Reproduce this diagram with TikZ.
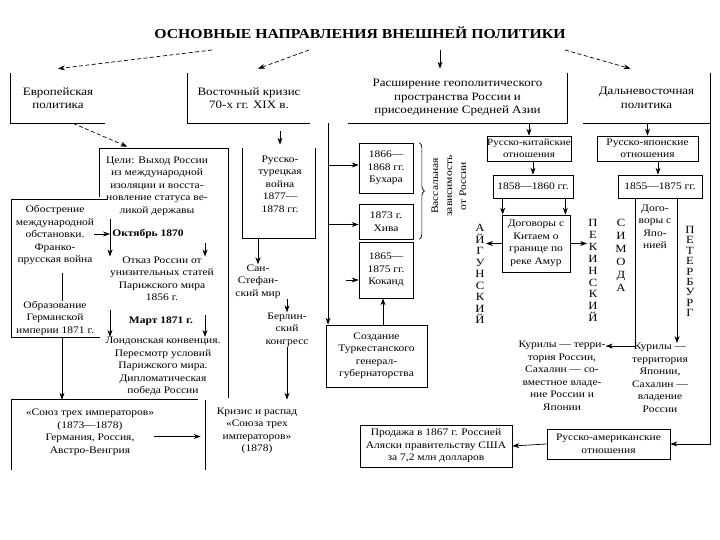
\documentclass[tikz,border=0pt]{standalone}
\usepackage{fontspec}
\setmainfont{Liberation Serif}[FakeStretch=1.15]
\usetikzlibrary{arrows.meta,decorations.pathreplacing}

\begin{document}
\begin{tikzpicture}[x=1pt,y=-1pt,>={Stealth[length=7pt,width=5pt]},line width=0.7pt,
    txt/.style={align=center,inner sep=0pt,font=\fontsize{10}{12.5}\selectfont},
    boldtxt/.style={txt,font=\fontsize{10}{12.5}\selectfont\bfseries},
    frame/.style={inner sep=0pt,align=center,font=\fontsize{11.3}{13.5}\selectfont},
    box/.style={draw,inner sep=0pt,align=center,font=\fontsize{10}{12.5}\selectfont},
    letters/.style={align=center,inner sep=1pt,font=\fontsize{11}{#1}\selectfont},
    dash line/.style={dash pattern=on 4pt off 2.5pt}]
    \useasboundingbox (0,0) rectangle (720,540);

    % title and the four directions
    \node[font=\fontsize{13.7}{16}\selectfont\bfseries] (title) at (360,33) {ОСНОВНЫЕ НАПРАВЛЕНИЯ ВНЕШНЕЙ ПОЛИТИКИ};
    \coordinate (t1) at (212,50);
    \coordinate (t2) at (309,50);
    \coordinate (t3) at (440,50);
    \coordinate (t4) at (565,50);
    \node[frame,minimum width=94pt,minimum height=50pt] (eu) at (58,98) {Европейская\\политика};
    \node[frame,minimum width=122pt,minimum height=50pt] (east) at (249,98) {Восточный кризис\\70-х гг. XIX в.};
    \node[frame,minimum width=219pt,minimum height=50pt] (exp) at (457.5,98) {Расширение геополитического\\пространства России и\\присоединение Средней Азии};
    \node[frame,minimum width=127pt,minimum height=50pt] (far) at (646.5,98) {Дальневосточная\\политика};
    \draw (eu.north west) |- (eu.south east);
    \draw (east.north west) |- (east.south east);
    \draw (exp.south west) -| (exp.north east);
    \draw (far.south west) -- (far.south east);
    \draw[dash line,->] (t1) -- ([yshift=4pt]eu.north);
    \draw[dash line,->] (t2) -- ([xshift=9pt,yshift=4pt]east.north);
    \draw[->,shorten >=4pt] (t3) -- (t3 |- exp.north);
    \draw[dash line,->] (t4) -- ([xshift=-16pt,yshift=4pt]far.north);

    % european policy
    \node[frame,minimum width=128pt,minimum height=249pt] (goalframe) at (164,273.5) {};
    \draw ([yshift=-48pt]goalframe.north west) |- (goalframe.north east) -- (goalframe.south east);
    \draw[dash line,->,shorten >=5pt] ([xshift=15pt]eu.south) -- ([xshift=-32pt]goalframe.north);
    \node[txt] (goal) at (157,186) {Цели: Выход России\\из международной\\изоляции и восста-\\новление статуса ве-\\ликой державы};
    \node[boldtxt] (oct) at (148,234) {Октябрь 1870};
    \node[txt] (otk) at (162,279) {Отказ России от\\унизительных статей\\Парижского мира\\1856 г.};
    \node[boldtxt] (mar) at (161,321) {Март 1871 г.};
    \node[txt] (lon) at (163,366.5) {Лондонская конвенция.\\Пересмотр условий\\Парижского мира.\\Дипломатическая\\победа России};
    \coordinate (v1) at (110,219);
    \coordinate (v2) at (110,310);
    \coordinate (r1) at (205,243);
    \coordinate (r2) at (205,315);
    \draw[->] (v1) -- (v1 |- otk.north);
    \draw[->] (v2) -- (v2 |- lon.north);
    \draw[->] (r1) -- (r1 |- otk.north);
    \draw[->] (r2) -- (r2 |- lon.north);

    \node[frame,minimum width=96pt,minimum height=137pt] (leftframe) at (60,268.5) {};
    \draw (leftframe.north east) -| (leftframe.south west) -- ([xshift=-8pt]leftframe.south east);
    \node[txt] (obo) at (55,235) {Обострение\\международной\\обстановки.\\Франко-\\прусская война};
    \node[txt] (obr) at (55,318) {Образование\\Германской\\империи 1871 г.};
    \draw[shorten <=8pt] ([xshift=7pt]obo.south) -- ([xshift=7pt]obo.south |- obr.north);
    \draw[->] (obo.east |- oct) -- (v1 |- oct);

    \node[frame,minimum width=186pt,minimum height=70pt] (unionframe) at (105,435) {};
    \draw (unionframe.south west) |- (unionframe.north east);
    \node[txt] (union) at (90,432.5) {«Союз трех императоров»\\(1873—1878)\\Германия, Россия,\\Австро-Венгрия};
    \node[frame,minimum width=104pt,minimum height=70pt] (crisisframe) at (258,435) {};
    \draw (crisisframe.north west) -- (crisisframe.south west);
    \node[txt] (crisis) at (257,431) {Кризис и распад\\«Союза трех\\императоров»\\(1878)};
    \draw[->] ([xshift=2pt]leftframe.south) -- ([xshift=2pt]leftframe.south |- unionframe.north);
    \draw[->,shorten >=5pt] ([yshift=-4pt]union.east) -- ([yshift=-4pt]union.east -| crisisframe.west);

    % eastern crisis
    \node[frame,minimum width=72pt,minimum height=90pt] (rtframe) at (279,193) {};
    \draw (rtframe.north west) |- (rtframe.south east) -- (rtframe.north east);
    \node[txt] (rt) at (280,184) {Русско-\\турецкая\\война\\1877—\\1878 гг.};
    \draw[->,shorten <=8pt,shorten >=3pt] ([xshift=31pt]east.south) -- ([xshift=31pt]east.south |- rtframe.north);
    \node[txt] (san) at (258,281.5) {Сан-\\Стефан-\\ский мир};
    \draw[->] ([xshift=-21pt]rtframe.south) -- ([xshift=-21pt]rtframe.south |- san.north);
    \node[txt] (ber) at (287,329.5) {Берлин-\\ский\\конгресс};
    \draw[->] (ber.north |- san.south) -- (ber.north);
    \draw[->] (ber.south) -- (ber.south |- crisisframe.north);

    % middle asia
    \coordinate (vx) at (328,123);
    \node[box,minimum width=54pt,minimum height=50pt] (buh) at (386,168) {1866—\\1868 гг.\\Бухара};
    \node[box,minimum width=54pt,minimum height=35pt] (khi) at (386,221.5) {1873 г.\\Хива};
    \node[box,minimum width=54pt,minimum height=56pt] (kok) at (386,270) {1865—\\1875 гг.\\Коканд};
    \node[box,minimum width=101pt,minimum height=62pt] (turk) at (376.5,356) {Создание\\Туркестанского\\генерал-\\губернаторства};
    \draw[->] (vx) -- (vx |- turk.north);
    \draw[->] ([yshift=3pt]buh.west -| vx) -- ([yshift=3pt]buh.west);
    \draw[->] ([yshift=-3pt]khi.west -| vx) -- ([yshift=-3pt]khi.west);
    \draw[->] ([xshift=-13pt,yshift=-10pt]kok.west) -- ([yshift=-10pt]kok.west);
    \draw[->] ([xshift=-3pt]kok.south |- turk.north) -- ([xshift=-3pt]kok.south);
    \draw[decorate,decoration={brace,amplitude=5pt}] ([xshift=6pt]buh.north east) -- ([xshift=6pt]khi.south east);
    \node[txt,rotate=90,font=\fontsize{10}{14}\selectfont] (vas) at (449,186) {Вассальная\\зависимость\\от России};

    % far east
    \node[box,minimum width=84pt,minimum height=25pt,font=\fontsize{9.6}{12}\selectfont] (rk) at (529,148.5) {Русско-китайские\\отношения};
    \draw[->] (rk.north |- exp.south) -- (rk.north);
    \node[box,minimum width=80pt,minimum height=23pt] (y58) at (533,186.5) {1858—1860 гг.};
    \draw[->] (y58.north |- rk.south) -- (y58.north);
    \node[box,minimum width=68pt,minimum height=57pt] (dog) at (536,243.5) {Договоры с\\Китаем о\\границе по\\реке Амур};
    \draw[->] ([xshift=1pt]dog.north west |- y58.south) -- ([xshift=1pt]dog.north west);
    \draw[->] ([xshift=-5pt]dog.north east |- y58.south) -- ([xshift=-5pt]dog.north east);
    \node[letters=11.5] (aig) at (480,274) {А\\Й\\Г\\У\\Н\\С\\К\\И\\Й};
    \node[letters=11.9] (pek) at (593,270.5) {П\\Е\\К\\И\\Н\\С\\К\\И\\Й};
    \node[letters=13] (sim) at (621,255.5) {С\\И\\М\\О\\Д\\А};
    \node[letters=10.4] (pet) at (690,271.5) {П\\Е\\Т\\Е\\Р\\Б\\У\\Р\\Г};
    \draw[->] (dog.west) -- (aig.east |- dog.west);
    \draw[->] (dog.east) -- (pek.west |- dog.east);

    \node[box,minimum width=101pt,minimum height=25pt] (rj) at (647.5,148.5) {Русско-японские\\отношения};
    \draw[->] (rj.north |- far.south) -- (rj.north);
    \node[box,minimum width=84pt,minimum height=23pt] (y55) at (660,186.5) {1855—1875 гг.};
    \draw[->] ([xshift=-2pt]y55.north |- rj.south) -- ([xshift=-2pt]y55.north);
    \node[txt] (jap) at (655,227) {Дого-\\воры с\\Япо-\\нией};
    \node[txt] (kur1) at (562,376) {Курилы — терри-\\тория России,\\Сахалин — со-\\вместное владе-\\ние России и\\Японии};
    \node[txt] (kur2) at (660,378) {Курилы —\\территория\\Японии,\\Сахалин —\\владение\\России};
    \draw[->] ([xshift=-25pt]y55.south) |- ([yshift=-5pt]kur1.north east);
    \draw[->] ([xshift=17pt]y55.south) -- ([xshift=17pt]y55.south |- kur2.north);

    \node[box,minimum width=123pt,minimum height=30pt] (ram) at (608.5,444) {Русско-американские\\отношения};
    \node[box,minimum width=152pt,minimum height=42pt] (sale) at (436,446) {Продажа в 1867 г. Россией\\Аляски правительству США\\за 7,2 млн долларов};
    \draw[->] (far.north east) |- (ram.east);
    \draw[->] (ram.west) -- (sale.east);
\end{tikzpicture}
\end{document}
